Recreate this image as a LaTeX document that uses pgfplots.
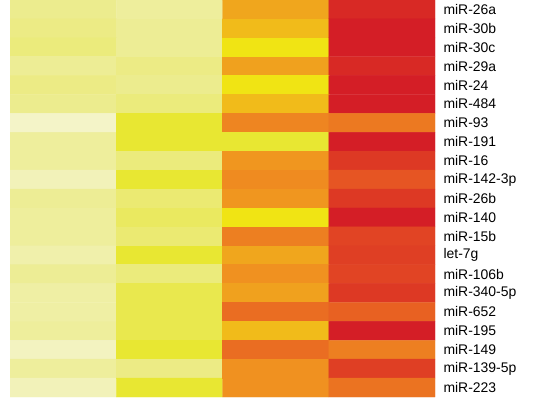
\documentclass[border=0pt]{standalone}
\usepackage{fontspec}
\setmainfont{Liberation Sans}
\usepackage{pgfplots}
\pgfplotsset{compat=1.18}
\usepackage{pgfplotstable}

% x = column, y = row (0 = top), c = level
\pgfplotstableread{
x y c
0 0 1.0
1 0 0.8
2 0 3.6
3 0 5.8
0 1 1.1
1 1 0.9
2 1 3.2
3 1 6.0
0 2 1.2
1 2 0.9
2 2 2.5
3 2 6.0
0 3 0.9
1 3 1.1
2 3 3.7
3 3 5.8
0 4 1.1
1 4 1.0
2 4 2.5
3 4 6.0
0 5 1.0
1 5 1.2
2 5 3.2
3 5 6.0
0 6 0.2
1 6 2.0
2 6 4.2
3 6 4.4
0 7 0.8
1 7 2.0
2 7 2.0
3 7 6.0
0 8 0.8
1 8 1.2
2 8 3.9
3 8 5.5
0 9 0.4
1 9 2.0
2 9 4.1
3 9 5.0
0 10 0.9
1 10 1.3
2 10 3.9
3 10 5.5
0 11 0.8
1 11 1.5
2 11 2.5
3 11 6.0
0 12 0.8
1 12 1.3
2 12 4.3
3 12 5.3
0 13 0.6
1 13 2.0
2 13 3.6
3 13 5.4
0 14 0.9
1 14 1.2
2 14 4.0
3 14 5.3
0 15 0.7
1 15 1.7
2 15 3.7
3 15 5.5
0 16 0.7
1 16 1.7
2 16 4.6
3 16 4.8
0 17 0.8
1 17 1.7
2 17 3.2
3 17 6.0
0 18 0.3
1 18 2.0
2 18 4.6
3 18 4.3
0 19 0.8
1 19 1.1
2 19 4.0
3 19 5.4
0 20 0.4
1 20 2.0
2 20 4.0
3 20 4.5
}\heatdata

\begin{document}
\begin{tikzpicture}[x=1bp,y=1bp]
\begin{axis}[
    scale only axis,
    width=425bp, height=397bp,
    xmin=-0.5, xmax=3.5,
    ymin=-0.5, ymax=20.5,
    y dir=reverse,
    axis line style={draw=none},
    major tick length=0pt,
    xtick=\empty,
    ytick={0,...,20},
    yticklabels={miR-26a,miR-30b,miR-30c,miR-29a,miR-24,miR-484,miR-93,miR-191,miR-16,miR-142-3p,miR-26b,miR-140,miR-15b,let-7g,miR-106b,miR-340-5p,miR-652,miR-195,miR-149,miR-139-5p,miR-223},
    yticklabel pos=right,
    yticklabel style={anchor=west, xshift=5bp, font=\fontsize{14}{14}\selectfont},
    colormap={heat}{rgb255(0)=(246,246,214) rgb255(10)=(236,236,142) rgb255(20)=(232,231,50) rgb255(25)=(240,228,20) rgb255(30)=(241,198,24) rgb255(40)=(240,145,32) rgb255(50)=(230,85,35) rgb255(60)=(212,30,38)},
    point meta min=0, point meta max=6,
]
\addplot[matrix plot*, mesh/cols=4, point meta=explicit] table[x=x, y=y, meta=c] {\heatdata};
\end{axis}
\path (current axis.south west) ++(-10bp,-9bp) (current axis.north east) ++(115bp,0bp);
\end{tikzpicture}
\end{document}
